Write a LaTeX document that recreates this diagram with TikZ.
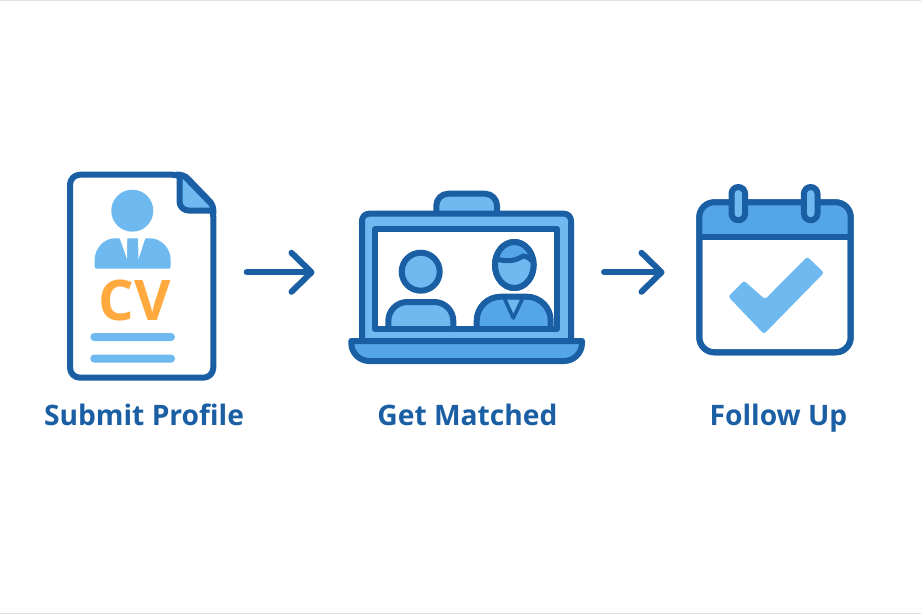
\documentclass[tikz,border=0pt]{standalone}
\usepackage{fontspec}
\setmainfont{Open Sans}
\usetikzlibrary{arrows.meta}
\definecolor{dk}{HTML}{1A5EA4}
\definecolor{lt}{HTML}{6DB9F0}
\definecolor{md}{HTML}{55A6E8}
\definecolor{org}{HTML}{FFA93E}
\tikzset{
 ln/.style={draw=dk,line width=6pt,line join=round},
 arr/.style={draw=dk,line width=6pt,line cap=round,line join=round,-{Straight Barb[length=20pt,width=39pt,round]}},
 lab/.style={text=dk,font=\fontsize{28.2}{32}\selectfont\bfseries,anchor=base,inner sep=0pt},
 bar/.style={fill=lt,rounded corners=4pt}
}
\begin{document}
\begin{tikzpicture}[x=1pt,y=-1pt]
\useasboundingbox (0,0) rectangle (921,614);
\fill[white] (0,0) rectangle (921,614);
\fill[black!12] (0,0) rectangle (921,1);
\fill[black!12] (0,613) rectangle (921,614);
% document
\draw[ln,fill=white,rounded corners=10pt] (70,174.7) -- (182,174.7) -- (213.3,207) -- (213.3,377.7) -- (70,377.7) -- cycle;
\fill[lt] (180,176) -- (212,209) -- (180,209) -- cycle;
\draw[ln,rounded corners=9pt] (179.5,174.7) -- (179.5,210.5) -- (214,210.5);
\draw[ln,rounded corners=5pt] (176,174.7) -- (184,174.7) -- (213.3,205) -- (213.3,214);
\fill[lt] (132.3,210.7) circle (21);
\fill[lt,rounded corners=2pt] (94.7,268.7) -- (94.7,262) .. controls (94.7,248) and (104,238.3) .. (117,238.3) -- (148,238.3) .. controls (161,238.3) and (170.7,248) .. (170.7,262) -- (170.7,268.7) -- cycle;
\fill[white] (119,236) -- (127.3,236) -- (127,259) -- cycle;
\fill[white] (138,236) -- (146,236) -- (138.5,259) -- cycle;
\node[text=org,font=\fontsize{56}{60}\selectfont\bfseries,anchor=base,inner sep=0pt] (cv) at (134.5,320) {CV};
\fill[bar] (90.3,333) rectangle (175,341);
\fill[bar] (90.3,354.5) rectangle (175,362.7);
\node[lab] (l1) at (144,425) {Submit Profile};
% arrow 1
\coordinate (a1s) at (246.7,272.3);
\coordinate (a1e) at (314.5,272.3);
\draw[arr] (a1s) -- (a1e);
% laptop
\draw[ln,fill=lt,rounded corners=12pt] (436.3,216) -- (436.3,193.7) -- (497,193.7) -- (497,216);
\draw[ln,fill=lt,rounded corners=7pt] (362,341) -- (362,213.7) -- (571,213.7) -- (571,341);
\draw[ln,fill=white] (375.3,229) rectangle (557,328.7);
\draw[ln,fill=lt] (420.7,271.7) circle (19);
\draw[ln,fill=lt,rounded corners=19pt] (388.3,328.7) -- (388.3,302) -- (453.3,302) -- (453.3,328.7);
\draw[ln,fill=lt] (388.3,328.7) -- (453.3,328.7);
\draw[ln,fill=lt] (514.3,265) ellipse (19.3 and 23);
\begin{scope}
\clip (514.3,265) ellipse (19.3 and 23);
\fill[md] (490,235) rectangle (540,260);
\fill[md] (490,258) -- (495,259) .. controls (510,264) and (520,258) .. (523,256) .. controls (528,256) and (530,260) .. (540,262) -- (540,235) -- (490,235) -- cycle;
\fill[lt] (490,259) -- (495,259) .. controls (510,264) and (520,258) .. (523,256) .. controls (528,256) and (530,260) .. (540,262) -- (540,290) -- (490,290) -- cycle;
\end{scope}
\draw[dk,line width=5pt,line cap=round] (495.5,258.5) .. controls (510,264) and (520,258) .. (523,256) .. controls (528,256) and (530,260) .. (533.5,261);
\draw[ln] (514.3,265) ellipse (19.3 and 23);
\draw[ln,fill=md,rounded corners=24pt] (476.7,330) -- (476.7,296.7) -- (550.7,296.7) -- (550.7,330);
\draw[ln] (476.7,328.7) -- (550.7,328.7);
\fill[lt] (505,300) -- (522,300) -- (513.5,315) -- cycle;
\draw[dk,line width=3.6pt,line cap=round,line join=round] (504,297.5) -- (513.3,318) -- (523,297.5);
\draw[ln,fill=md,rounded corners=12pt] (351.3,341) [sharp corners] -- (582,341) [rounded corners=18pt] -- (582,361) -- (351.3,361) [sharp corners] -- cycle;
\node[lab] (l2) at (467.5,425) {Get Matched};
% arrow 2
\coordinate (a2s) at (604,272.3);
\coordinate (a2e) at (664.5,272.3);
\draw[arr] (a2s) -- (a2e);
% calendar
\draw[ln,fill=white,rounded corners=15pt] (699.3,202.3) rectangle (850.7,352.3);
\fill[md,rounded corners=13pt] (702,205) -- (848,205) -- (848,235) -- (702,235) [sharp corners] -- cycle;
\fill[md] (702,220) rectangle (848,235);
\draw[ln,fill=none,rounded corners=15pt] (699.3,202.3) rectangle (850.7,352.3);
\draw[ln] (699.3,237.3) -- (850.7,237.3);
\draw[ln,fill=lt,rounded corners=6.8pt] (731.5,187) rectangle (745.1,220.3);
\draw[ln,fill=lt,rounded corners=6.8pt] (803.9,187) rectangle (817.5,220.3);
\fill[lt,rounded corners=2.5pt] (728.3,296.7) -- (744,280.7) -- (765,299.3) -- (807.3,256.7) -- (824,272.7) -- (764,334) -- cycle;
\node[lab] (l3) at (778.5,425) {Follow Up};
\end{tikzpicture}
\end{document}
